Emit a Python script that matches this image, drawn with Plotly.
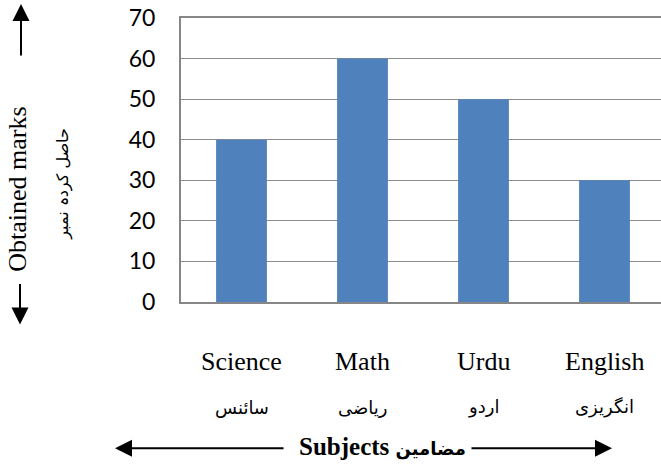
import plotly.graph_objects as go

subjects = ["Science", "Math", "Urdu", "English"]
subjects_urdu = ["سائنس", "ریاضی", "اردو", "انگریزی"]
marks = [40, 60, 50, 30]
y_ticks = [0, 10, 20, 30, 40, 50, 60, 70]

W, H = 661, 466
L, T, R, B = 181, 18, 0, 163.5
PW, PH = W - L - R, H - T - B

def px(x):
    return (x - L) / PW

def py(y):
    return (T + PH - y) / PH

fig = go.Figure(go.Bar(
    x=subjects, y=marks, marker=dict(color="#4F81BD", line=dict(width=0)),
    width=0.42, hoverinfo="skip"))

serif = "Liberation Serif"
ann = []
for s, u in zip(subjects, subjects_urdu):
    ann.append(dict(x=s, xref="x", y=py(362), yref="paper", text=s, showarrow=False,
                    font=dict(family=serif, size=26, color="#000"), yanchor="middle"))
    ann.append(dict(x=s, xref="x", y=py(408), yref="paper", text=u, showarrow=False,
                    font=dict(family="DejaVu Sans", size=18, color="#000"), yanchor="middle"))

ann.append(dict(x=px(382), y=py(447), xref="paper", yref="paper", showarrow=False,
                text="<b>Subjects</b> <span style='font-family:DejaVu Sans;font-size:18px'><b>مضامین</b></span>",
                font=dict(family=serif, size=25, color="#000"), yanchor="middle"))
ann.append(dict(x=px(18), y=py(190), xref="paper", yref="paper", showarrow=False,
                text="Obtained marks", textangle=-90,
                font=dict(family=serif, size=26, color="#000"), xanchor="center", yanchor="middle"))
ann.append(dict(x=px(63), y=py(184), xref="paper", yref="paper", showarrow=False,
                text="حاصل کردہ نمبر", textangle=-90,
                font=dict(family="DejaVu Sans", size=16, color="#000"), xanchor="center", yanchor="middle"))

arrows = [((21, 4), (0, 53)), ((20, 325), (0, -42)), ((115, 449), (170, 0)), ((612, 449), (-142, 0))]
for (tx, ty), (ax, ay) in arrows:
    ann.append(dict(x=px(tx), y=py(ty), xref="paper", yref="paper", ax=ax, ay=ay,
                    showarrow=True, arrowhead=2, arrowsize=1.7, arrowwidth=2,
                    arrowcolor="#000", text=""))

fig.update_layout(
    width=W, height=H, margin=dict(l=L, r=R, t=T, b=B, pad=0, autoexpand=False),
    paper_bgcolor="white", plot_bgcolor="white", showlegend=False,
    annotations=ann,
    xaxis=dict(range=[-0.5, -0.5 + PW / 121], showticklabels=False, ticks="",
               showline=True, linecolor="#868686", linewidth=2, mirror=True,
               showgrid=False, fixedrange=True, automargin=False),
    yaxis=dict(range=[0, 70], tickvals=y_ticks, ticks="", showline=True,
               linecolor="#868686", linewidth=2, showgrid=True, gridcolor="#8C8C8C",
               gridwidth=1.2, zeroline=False, ticklabelstandoff=19, automargin=False,
               tickfont=dict(family="Lato", size=23, color="#000"), fixedrange=True),
)

fig.write_html("out.html", config={"displayModeBar": False},
               post_script="document.body.style.margin='0';document.body.style.overflow='hidden';")
